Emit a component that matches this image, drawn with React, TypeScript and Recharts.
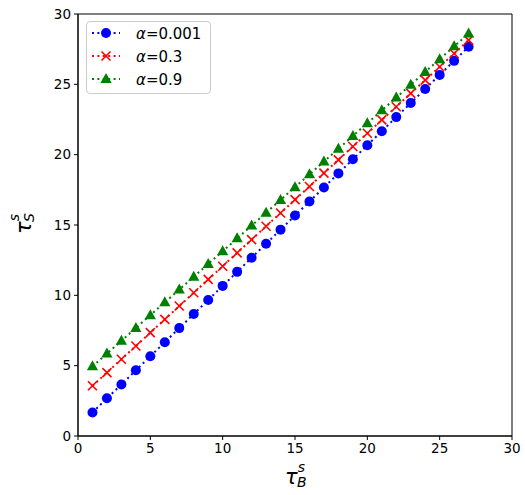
import { ComposedChart, Line, XAxis, YAxis, ReferenceArea } from 'recharts';

const tauB = [1, 2, 3, 4, 5, 6, 7, 8, 9, 10, 11, 12, 13, 14, 15, 16, 17, 18, 19, 20, 21, 22, 23, 24, 25, 26, 27];

const alpha0001 = [
  1.67, 2.68, 3.66, 4.67, 5.67, 6.67, 7.67, 8.67, 9.67, 10.67, 11.67, 12.67, 13.67, 14.67,
  15.67, 16.67, 17.67, 18.67, 19.67, 20.67, 21.67, 22.67, 23.67, 24.67, 25.67, 26.67, 27.67,
];
const alpha03 = [
  3.57, 4.51, 5.46, 6.4, 7.35, 8.29, 9.24, 10.18, 11.13, 12.07, 13.02, 13.96, 14.91, 15.85,
  16.8, 17.74, 18.69, 19.63, 20.58, 21.52, 22.47, 23.41, 24.36, 25.3, 26.25, 27.19, 28.14,
];
const alpha09 = [
  4.95, 5.86, 6.77, 7.68, 8.59, 9.5, 10.41, 11.32, 12.23, 13.14, 14.05, 14.96, 15.87, 16.78,
  17.69, 18.6, 19.51, 20.42, 21.33, 22.24, 23.15, 24.06, 24.97, 25.88, 26.79, 27.7, 28.61,
];

const axisTicks = [0, 5, 10, 15, 20, 25, 30];
const alphaLabels = ['0.001', '0.3', '0.9'];

const data = tauB.map((x, i) => ({ x, a: alpha0001[i], b: alpha03[i], c: alpha09[i] }));

const BLUE = '#0000ff';
const RED = '#ff0000';
const GREEN = '#008000';
const FONT = '"DejaVu Sans", sans-serif';

const CircleDot = (p: any) =>
  p.cx == null ? null : <circle key={p.key} cx={p.cx} cy={p.cy} r={5} fill={BLUE} />;

const CrossDot = (p: any) => {
  if (p.cx == null) return null;
  const s = 4.5;
  return (
    <g key={p.key} stroke={RED} strokeWidth={1.6}>
      <line x1={p.cx - s} y1={p.cy - s} x2={p.cx + s} y2={p.cy + s} />
      <line x1={p.cx - s} y1={p.cy + s} x2={p.cx + s} y2={p.cy - s} />
    </g>
  );
};

const TriDot = (p: any) => {
  if (p.cx == null) return null;
  const { cx, cy } = p;
  return (
    <polygon key={p.key} points={`${cx},${cy - 6} ${cx - 5.6},${cy + 4} ${cx + 5.6},${cy + 4}`} fill={GREEN} />
  );
};

const markers = [
  { color: BLUE, Dot: CircleDot },
  { color: RED, Dot: CrossDot },
  { color: GREEN, Dot: TriDot },
];

const XLabel = (props: any) => {
  const vb = props.viewBox;
  const cx = vb.x + vb.width / 2;
  return (
    <text x={cx - 10} y={484} fontFamily={FONT} fill="#000">
      <tspan fontSize={21} fontStyle="italic">τ</tspan>
      <tspan fontSize={14} fontStyle="italic" dy={-12}>s</tspan>
      <tspan fontSize={14} fontStyle="italic" dx={-8} dy={15}>B</tspan>
    </text>
  );
};

const YLabel = (props: any) => {
  const vb = props.viewBox;
  const cy = vb.y + vb.height / 2;
  return (
    <text x={0} y={0} fontFamily={FONT} fill="#000" transform={`translate(31, ${cy + 9}) rotate(-90)`}>
      <tspan fontSize={21} fontStyle="italic">τ</tspan>
      <tspan fontSize={14} fontStyle="italic" dy={-12}>s</tspan>
      <tspan fontSize={14} fontStyle="italic" dx={-8} dy={15}>S</tspan>
    </text>
  );
};

const LegendBox = () => (
  <div
    style={{
      position: 'absolute',
      left: 86,
      top: 21,
      width: 125,
      height: 73,
      border: '1px solid #cccccc',
      borderRadius: 4,
      background: 'rgba(255,255,255,0.8)',
      boxSizing: 'border-box',
    }}
  >
    <svg width={125} height={73} style={{ position: 'absolute', left: -1, top: -1 }}>
      {alphaLabels.map((lab, i) => {
        const y = 12 + i * 23;
        const m = markers[i];
        return (
          <g key={lab}>
            <line x1={6} x2={34} y1={y} y2={y} stroke={m.color} strokeWidth={2} strokeDasharray="2 3.4" />
            {m.Dot({ cx: 20, cy: y, key: 'k' + i })}
            <text x={50} y={y + 5.5} fontFamily={FONT} fontSize={15} fill="#000">
              <tspan fontStyle="italic">α</tspan>
              <tspan>={lab}</tspan>
            </text>
          </g>
        );
      })}
    </svg>
  </div>
);

export default function App() {
  return (
    <div style={{ position: 'absolute', left: 0, top: 0, width: 525, height: 495, background: '#fff' }}>
      <ComposedChart width={525} height={495} data={data} margin={{ top: 14, right: 13, left: 0, bottom: 0 }}>
        <XAxis
          type="number"
          dataKey="x"
          domain={[0, 30]}
          ticks={axisTicks}
          height={59}
          tickSize={4}
          tickMargin={3}
          tick={{ fill: '#000', fontSize: 13.5, fontFamily: FONT }}
          axisLine={{ stroke: '#000' }}
          tickLine={{ stroke: '#000' }}
          label={<XLabel />}
        />
        <YAxis
          type="number"
          domain={[0, 30]}
          ticks={axisTicks}
          width={78}
          tickSize={4}
          tickMargin={3}
          tick={{ fill: '#000', fontSize: 13.5, fontFamily: FONT }}
          axisLine={{ stroke: '#000' }}
          tickLine={{ stroke: '#000' }}
          label={<YLabel />}
        />
        <ReferenceArea x1={0} x2={30} y1={0} y2={30} fill="none" stroke="#000" strokeWidth={1} ifOverflow="visible" />
        <Line dataKey="a" stroke={BLUE} strokeWidth={2} strokeDasharray="2 3.4" dot={CircleDot} activeDot={false} isAnimationActive={false} />
        <Line dataKey="b" stroke={RED} strokeWidth={2} strokeDasharray="2 3.4" dot={CrossDot} activeDot={false} isAnimationActive={false} />
        <Line dataKey="c" stroke={GREEN} strokeWidth={2} strokeDasharray="2 3.4" dot={TriDot} activeDot={false} isAnimationActive={false} />
      </ComposedChart>
      <LegendBox />
    </div>
  );
}
